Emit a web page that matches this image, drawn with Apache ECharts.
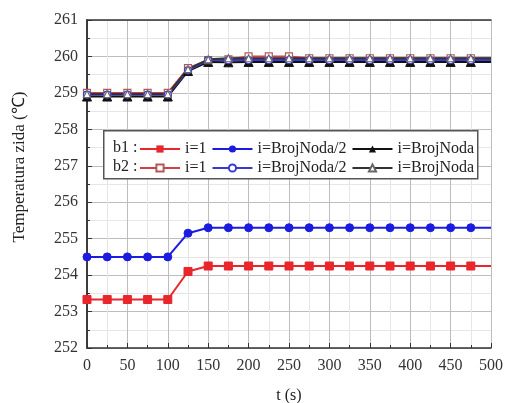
<!DOCTYPE html>
<html>
<head>
<meta charset="utf-8">
<script src="https://cdn.jsdelivr.net/npm/echarts@6/dist/echarts.min.js"></script>
<style>
  html, body { margin: 0; padding: 0; background: #fff; }
  #chart { width: 507px; height: 403px; }
</style>
</head>
<body>
<div id="chart"></div>
<script>
// time samples (s)
const times = [0, 25, 50, 75, 100, 125, 150, 175, 200, 225, 250, 275, 300, 325, 350, 375, 400, 425, 450, 475, 500];

// b1 series
const b1First = [253.33, 253.33, 253.33, 253.33, 253.33, 254.1, 254.25, 254.25, 254.25, 254.25, 254.25, 254.25, 254.25, 254.25, 254.25, 254.25, 254.25, 254.25, 254.25, 254.25, 254.25];
const b1Mid = [254.5, 254.5, 254.5, 254.5, 254.5, 255.15, 255.3, 255.3, 255.3, 255.3, 255.3, 255.3, 255.3, 255.3, 255.3, 255.3, 255.3, 255.3, 255.3, 255.3, 255.3];
const b1Last = [258.9, 258.9, 258.9, 258.9, 258.9, 259.6, 259.85, 259.84, 259.85, 259.85, 259.85, 259.85, 259.85, 259.85, 259.85, 259.85, 259.85, 259.85, 259.85, 259.85, 259.85];

// b2 series
const b2First = [259.0, 259.0, 259.0, 259.0, 259.0, 259.68, 259.9, 259.92, 260.0, 260.0, 260.0, 259.95, 259.95, 259.95, 259.95, 259.95, 259.95, 259.95, 259.95, 259.95, 259.95];
const b2Mid = [258.95, 258.95, 258.95, 258.95, 258.95, 259.62, 259.9, 259.9, 259.9, 259.9, 259.9, 259.9, 259.9, 259.9, 259.9, 259.9, 259.9, 259.9, 259.9, 259.9, 259.9];
const b2Last = [258.97, 258.97, 258.97, 258.97, 258.97, 259.65, 259.92, 259.95, 259.95, 259.95, 259.95, 259.95, 259.95, 259.95, 259.95, 259.95, 259.95, 259.95, 259.95, 259.95, 259.95];

const xTicks = [0, 50, 100, 150, 200, 250, 300, 350, 400, 450, 500];
const yTicks = [252, 253, 254, 255, 256, 257, 258, 259, 260, 261];

const FONT = 'Liberation Serif';

// pair values with time; no marker at the last sample (t = 500)
function pairs(vals) {
  return vals.map((v, i) => {
    const item = { value: [times[i], v] };
    if (times[i] === 500) item.symbol = 'none';
    return item;
  });
}

function makeSeries(name, vals, color, symbol, hollow, borderColor) {
  let size = symbol === 'triangle' ? 9 : 8;
  if (hollow) size = 7;
  return {
    name: name,
    type: 'line',
    data: pairs(vals),
    symbol: symbol,
    symbolSize: size,
    showAllSymbol: true,
    lineStyle: { color: color, width: 2 },
    itemStyle: hollow
      ? { color: '#fff', borderColor: borderColor || color, borderWidth: 1.2 }
      : { color: color, borderColor: color },
    emphasis: { disabled: true },
    z: 3,
  };
}

const legendText = { fontFamily: FONT, fontSize: 16, color: '#222' };

const chart = echarts.init(document.getElementById('chart'));

const option = {
  backgroundColor: '#fff',
  animation: false,
  textStyle: { fontFamily: FONT },
  grid: { left: 87, right: 16, top: 20, bottom: 55, outerBoundsMode: 'none', containLabel: false },
  legend: [
    {
      data: ['b1 i=1', 'b1 i=BrojNoda/2', 'b1 i=BrojNoda'],
      left: 139, top: 141, padding: 0,
      itemWidth: 40, itemHeight: 9, itemGap: 5,
      formatter: name => name.slice(3),
      textStyle: legendText,
    },
    {
      data: ['b2 i=1', 'b2 i=BrojNoda/2', 'b2 i=BrojNoda'],
      left: 139, top: 160, padding: 0,
      itemWidth: 40, itemHeight: 9, itemGap: 5,
      formatter: name => name.slice(3),
      textStyle: legendText,
    },
  ],
  graphic: [
    {
      type: 'rect', left: 103, top: 130, z: 2,
      shape: { width: 374, height: 48 },
      style: { fill: '#fff', stroke: '#555', lineWidth: 1.5 },
    },
    {
      type: 'text', x: 113, y: 148, z: 3,
      style: { text: 'b1 :', font: '16px "Liberation Serif"', fill: '#222', verticalAlign: 'middle' },
    },
    {
      type: 'text', x: 113, y: 167, z: 3,
      style: { text: 'b2 :', font: '16px "Liberation Serif"', fill: '#222', verticalAlign: 'middle' },
    },
    {
      type: 'text', x: 20, y: 167, rotation: Math.PI / 2, z: 3,
      style: {
        text: 'Temperatura zida (\u2103)', font: '17px "Liberation Serif"', fill: '#222',
        align: 'center', verticalAlign: 'middle',
      },
    },
  ],
  xAxis: [
    {
      type: 'value', min: 0, max: 500, interval: 50,
      name: 't (s)', nameLocation: 'middle', nameGap: 40,
      nameTextStyle: { fontFamily: FONT, fontSize: 16, color: '#222' },
      axisLine: { lineStyle: { color: '#333', width: 1.5 } },
      axisTick: { inside: true, length: 5, lineStyle: { color: '#333' } },
      minorTick: { show: true, splitNumber: 2, length: 3, lineStyle: { color: '#333' } },
      axisLabel: {
        fontFamily: FONT, fontSize: 16, color: '#333', margin: 10,
        formatter: v => (xTicks.includes(v) ? String(v) : ''),
      },
      splitLine: { show: true, lineStyle: { color: '#bdbdbd', width: 1 } },
      minorSplitLine: { show: true, lineStyle: { color: '#e6e6e6', width: 1 } },
    },
    {
      type: 'value', min: 0, max: 500, interval: 50, position: 'top',
      axisLine: { show: true, lineStyle: { color: '#333', width: 1.5 } },
      axisTick: { show: false }, axisLabel: { show: false }, splitLine: { show: false },
    },
  ],
  yAxis: [
    {
      type: 'value', min: 252, max: 261, interval: 1,
      axisLine: { show: true, lineStyle: { color: '#333', width: 1.5 } },
      axisTick: { inside: true, length: 5, lineStyle: { color: '#333' } },
      minorTick: { show: true, splitNumber: 2, length: 3, lineStyle: { color: '#333' } },
      axisLabel: {
        fontFamily: FONT, fontSize: 16, color: '#333', margin: 9,
        formatter: v => (yTicks.includes(v) ? String(v) : ''),
      },
      splitLine: { show: true, lineStyle: { color: '#bdbdbd', width: 1 } },
      minorSplitLine: { show: true, lineStyle: { color: '#e6e6e6', width: 1 } },
    },
    {
      type: 'value', min: 252, max: 261, interval: 1, position: 'right',
      axisLine: { show: true, lineStyle: { color: '#333', width: 1.5 } },
      axisTick: { show: false }, axisLabel: { show: false }, splitLine: { show: false },
    },
  ],
  series: [
    makeSeries('b1 i=1', b1First, '#e8262b', 'rect', false),
    makeSeries('b1 i=BrojNoda/2', b1Mid, '#1c1ce0', 'circle', false),
    makeSeries('b1 i=BrojNoda', b1Last, '#111', 'triangle', false),
    makeSeries('b2 i=1', b2First, '#d0404a', 'rect', true, '#b05a5a'),
    makeSeries('b2 i=BrojNoda/2', b2Mid, '#3a3ad0', 'circle', true),
    makeSeries('b2 i=BrojNoda', b2Last, '#333', 'triangle', true, '#666'),
  ],
};

chart.setOption(option);
</script>
</body>
</html>
